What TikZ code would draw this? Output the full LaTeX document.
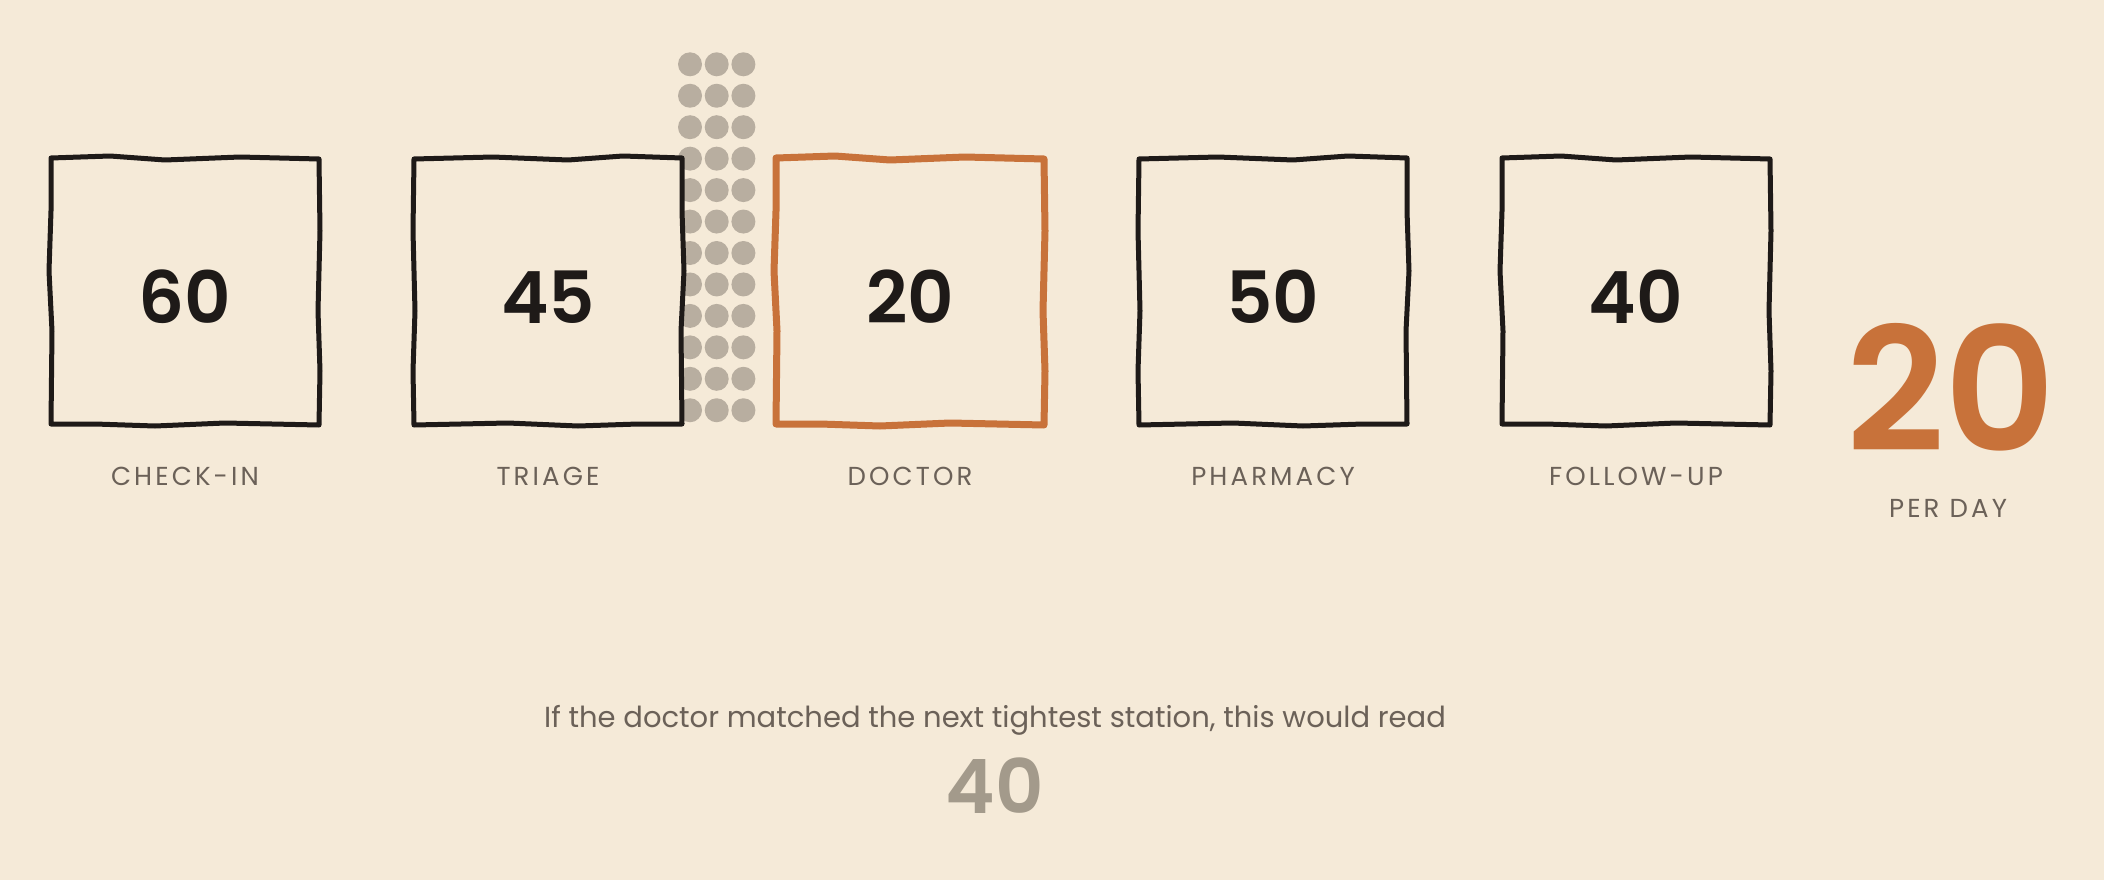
\documentclass[tikz,border=0pt]{standalone}
\usepackage{fontspec}
\setmainfont{Poppins}
\newfontfamily\numfont{Poppins SemiBold}
\newfontfamily\labelfont[LetterSpace=12]{Poppins}
\usetikzlibrary{calc}
\definecolor{bg}{HTML}{F5EAD8}
\definecolor{ink}{HTML}{1E1A18}
\definecolor{accent}{HTML}{C8723A}
\definecolor{lbl}{HTML}{6B6158}
\definecolor{dotc}{HTML}{B8AEA0}
\definecolor{ghost}{HTML}{A39A8B}
\tikzset{
  station/.style={rectangle, minimum width=268pt, minimum height=268pt, inner sep=0pt},
  num/.style={anchor=base, inner sep=0pt, font=\numfont\fontsize{72}{72}\selectfont, text=ink},
  lab/.style={anchor=base, inner sep=0pt, font=\labelfont\fontsize{26}{26}\selectfont, text=lbl},
  boxline/.style={line width=5pt, line join=round, line cap=round},
}
\newcommand\wobblebox[4]{%
  \begin{scope}[shift={(#1.center)}, xscale=#3]
    \draw[boxline, line width=#4, draw=#2, fill=bg] (-134,-133) -- (-75,-135) -- (-20,-131) -- (55,-134) -- (134,-132)
      -- (135,-60) -- (133,20) -- (135,80) -- (134,134) -- (40,132) -- (-30,135) -- (-90,133) -- (-134,133)
      -- (-133,40) -- (-136,-20) -- (-134,-80) -- cycle;
  \end{scope}}
\begin{document}
\begin{tikzpicture}[x=1pt, y=-1pt]
\fill[bg] (0,0) rectangle (2104,880);
\useasboundingbox (0,0) rectangle (2104,880);
% queue dots
\foreach \c in {0,1,2}{
  \foreach \r in {0,...,11}{
    \fill[dotc] (690+26.7*\c, 64.3+31.45*\r) circle (12);
  }
}
% stations
\node[station] (ci) at (185,291) {};
\node[station] (tr) at (548,291) {};
\node[station] (dr) at (910,291) {};
\node[station] (ph) at (1273,291) {};
\node[station] (fu) at (1636,291) {};
\wobblebox{ci}{ink}{1}{5pt}
\wobblebox{tr}{ink}{-1}{5pt}
\wobblebox{dr}{accent}{1}{7pt}
\wobblebox{ph}{ink}{-1}{5pt}
\wobblebox{fu}{ink}{1}{5pt}
\node[num] (ciN) at (185,323) {60};
\node[num] (trN) at (548,323) {45};
\node[num] (drN) at (910,323) {20};
\node[num] (phN) at (1273,323) {50};
\node[num] (fuN) at (1636,323) {40};
\node[lab] (ciL) at (185,485) {CHECK-IN};
\node[lab] (trL) at (548,485) {TRIAGE};
\node[lab] (drL) at (910,485) {DOCTOR};
\node[lab] (phL) at (1273,485) {PHARMACY};
\node[lab] (fuL) at (1636,485) {FOLLOW-UP};
% throughput
\node[anchor=base, inner sep=0pt, text height=125pt, text depth=0pt, font=\numfont\fontsize{172}{172}\selectfont, text=accent] (out) at (1951,451) {20};
\node[lab] (perday) at (1948,517) {PER DAY};
% note
\node[anchor=base, inner sep=0pt, font=\fontsize{29}{29}\selectfont, text=lbl] (note) at (995,727) {If the doctor matched the next tightest station, this would read};
\node[anchor=base, inner sep=0pt, font=\numfont\fontsize{75}{75}\selectfont, text=ghost] (alt) at (995,813) {40};
\end{tikzpicture}
\end{document}
